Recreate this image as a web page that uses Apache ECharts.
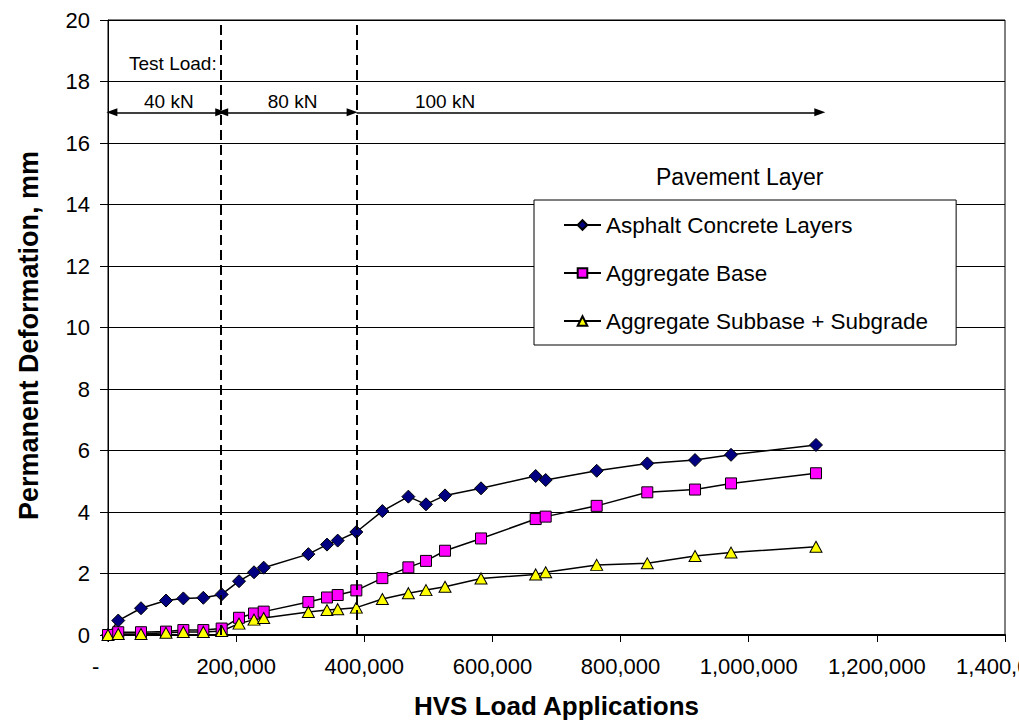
<!DOCTYPE html>
<html><head><meta charset="utf-8">
<script src="https://cdn.jsdelivr.net/npm/echarts@6/dist/echarts.min.js"></script>
<style>html,body{margin:0;padding:0;background:#fff}#c{width:1019px;height:726px}</style>
</head><body><div id="c"></div>
<script>
// HVS load applications (shared x positions)
const loadApps = [0, 16000, 51500, 90500, 117600, 148800, 177400, 204500, 227900, 243000,
  312700, 341800, 358500, 387600, 428200, 468800, 496300, 526000, 582200, 667500,
  683100, 762700, 841700, 916200, 972400, 1105000];
// Permanent deformation, mm
const asphalt = [0, 0.47, 0.87, 1.12, 1.19, 1.21, 1.32, 1.75, 2.04, 2.19,
  2.63, 2.94, 3.07, 3.35, 4.03, 4.50, 4.25, 4.54, 4.77, 5.17,
  5.04, 5.34, 5.58, 5.69, 5.86, 6.18];
const aggBase = [0, 0.09, 0.09, 0.11, 0.16, 0.16, 0.21, 0.56, 0.70, 0.76,
  1.07, 1.22, 1.30, 1.45, 1.85, 2.20, 2.41, 2.74, 3.14, 3.77,
  3.85, 4.20, 4.64, 4.73, 4.93, 5.26];
const subbase = [0, 0.03, 0.03, 0.07, 0.10, 0.10, 0.13, 0.37, 0.50, 0.55,
  0.75, 0.81, 0.84, 0.89, 1.17, 1.36, 1.46, 1.57, 1.84, 1.97,
  2.04, 2.28, 2.33, 2.57, 2.68, 2.87];
const seriesNames = ['Asphalt Concrete Layers', 'Aggregate Base', 'Aggregate Subbase + Subgrade'];
const legendTitle = 'Pavement Layer';
// Test load annotation
const loadChangeAt = [176000, 388000];
const loadLabels = ['40 kN', '80 kN', '100 kN'];
const loadLabelAt = [95000, 288000, 526000];
const loadArrows = [[6000, 176000], [179000, 381000], [388000, 1111000]];
const arrowLevel = 17;
const loadLabelLevel = 17.34;
const testLoadText = 'Test Load:';
const testLoadAt = [32800, 18.6];

const FONT = '"Liberation Sans", Arial, sans-serif';
const pair = arr => loadApps.map((x, i) => [x, arr[i]]);
const lineStyle = {color: '#000', width: 1.5};

const chart = echarts.init(document.getElementById('c'), null, {renderer: 'svg'});
chart.setOption({
  animation: false,
  backgroundColor: '#fff',
  textStyle: {fontFamily: FONT, color: '#000'},
  grid: {left: 108, right: 14, top: 20, bottom: 91, show: true, borderColor: '#000', borderWidth: 1,
    containLabel: false, outerBoundsMode: 'none'},
  graphic: [{type: 'text', left: 740 - 84, top: 165,
    style: {text: legendTitle, font: '23px ' + FONT, fill: '#000'}}],
  legend: {
    orient: 'vertical', left: 534, top: 200,
    data: seriesNames,
    itemWidth: 37, itemHeight: 12, itemGap: 24,
    padding: [13, 28, 12, 29],
    borderColor: '#000', borderWidth: 1, backgroundColor: '#fff',
    textStyle: {fontSize: 22.5, fontFamily: FONT, color: '#000', lineHeight: 24},
    selectedMode: false
  },
  xAxis: {
    type: 'value', min: 0, max: 1400000, interval: 200000,
    name: 'HVS Load Applications', nameLocation: 'middle', nameGap: 58,
    nameTextStyle: {fontSize: 26, fontWeight: 'bold', fontFamily: FONT, color: '#000'},
    axisLine: {show: true, lineStyle: {color: '#000', width: 2}},
    axisTick: {show: true, length: 7, lineStyle: {color: '#000', width: 1}},
    splitLine: {show: false},
    axisLabel: {fontSize: 22, color: '#000', fontFamily: FONT, margin: 20, hideOverlap: false,
      showMaxLabel: true, showMinLabel: true,
      formatter: v => v === 0 ? '-    ' : v.toLocaleString('en-US')}
  },
  yAxis: {
    type: 'value', min: 0, max: 20, interval: 2,
    name: 'Permanent Deformation, mm', nameLocation: 'middle', nameGap: 66,
    nameTextStyle: {fontSize: 27, fontWeight: 'bold', fontFamily: FONT, color: '#000', padding: [0, 16, 0, 0]},
    axisLine: {show: true, lineStyle: {color: '#000', width: 1}},
    axisTick: {show: true, length: 8, lineStyle: {color: '#000', width: 1}},
    splitLine: {show: true, lineStyle: {color: '#000', width: 1}},
    axisLabel: {fontSize: 22, color: '#000', fontFamily: FONT, margin: 18}
  },
  series: [
    {
      name: 'annotations', type: 'line', data: [], silent: true,
      markLine: {
        silent: true, animation: false,
        label: {show: false},
        data: [
          ...loadChangeAt.map(x => ({xAxis: x, symbol: 'none',
            lineStyle: {color: '#000', width: 2, type: [10, 5]}})),
          ...loadArrows.map((a, i) => [
            {coord: [a[0], arrowLevel], symbol: i === 2 ? 'none' : 'triangle', symbolSize: [8, 11]},
            {coord: [a[1], arrowLevel], symbol: 'triangle', symbolSize: [8, 11],
              lineStyle: {color: '#000', width: 1.5, type: 'solid'}}
          ])
        ],
        symbol: ['none', 'none'],
        lineStyle: {color: '#000', width: 1.5, type: 'solid'},
        itemStyle: {color: '#000'}
      },
      markPoint: {
        silent: true, symbol: 'rect', symbolSize: 0,
        label: {show: true, position: 'inside', color: '#000', fontSize: 19, fontFamily: FONT},
        data: [
          {coord: testLoadAt, label: {formatter: testLoadText, align: 'left'}},
          ...loadLabels.map((t, i) => ({coord: [loadLabelAt[i], loadLabelLevel], label: {formatter: t}}))
        ]
      }
    },
    {
      name: seriesNames[0], type: 'line', data: pair(asphalt),
      symbol: 'diamond', symbolSize: [13, 13],
      itemStyle: {color: '#000080', borderColor: '#000', borderWidth: 1},
      lineStyle: lineStyle
    },
    {
      name: seriesNames[1], type: 'line', data: pair(aggBase),
      symbol: 'rect', symbolSize: 11,
      itemStyle: {color: '#FF00FF', borderColor: '#000', borderWidth: 1},
      lineStyle: lineStyle
    },
    {
      name: seriesNames[2], type: 'line', data: pair(subbase),
      symbol: 'triangle', symbolSize: [12, 11],
      itemStyle: {color: '#FFFF00', borderColor: '#000', borderWidth: 1},
      lineStyle: lineStyle
    }
  ]
});
</script>
</body></html>
